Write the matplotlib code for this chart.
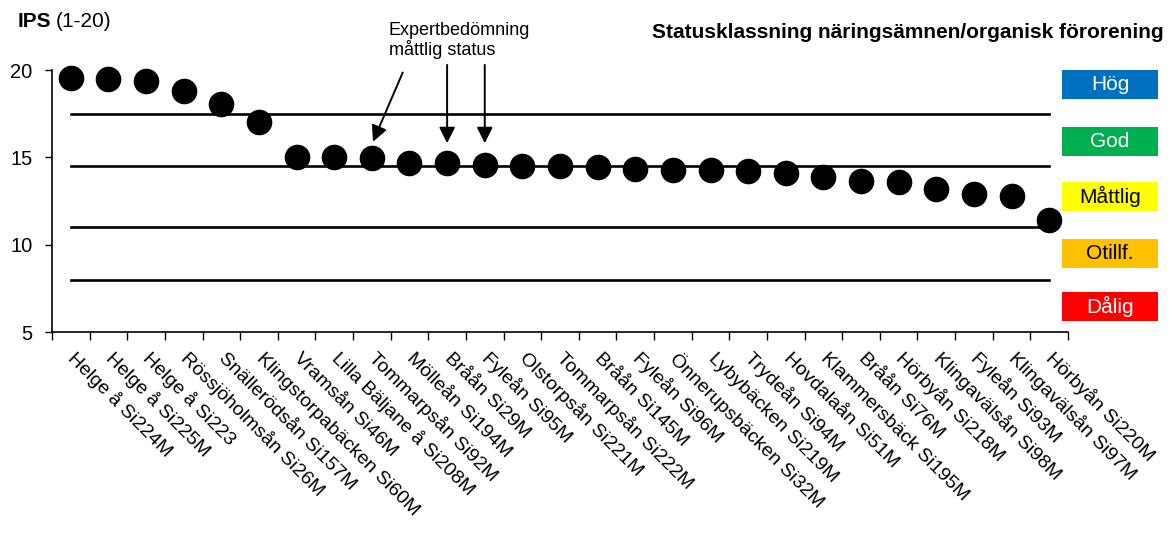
import matplotlib.pyplot as plt
import numpy as np
from matplotlib.patches import Rectangle

plt.rcParams['font.family'] = ['Liberation Sans', 'DejaVu Sans']

# stations and IPS values
stations = ['Helge å Si224M', 'Helge å Si225M', 'Helge å Si223', 'Rössjöholmsån Si26M',
            'Snällerödsån Si157M', 'Klingstorpabäcken Si60M', 'Vramsån Si46M',
            'Lilla Bäljane å Si208M', 'Tommarpsån Si92M', 'Mölleån Si194M', 'Bråån Si29M',
            'Fyleån Si95M', 'Olstorpsån Si221M', 'Tommarpsån Si222M', 'Bråån Si145M',
            'Fyleån Si96M', 'Önnerupsbäcken Si32M', 'Lybybäcken Si219M', 'Trydeån Si94M',
            'Hovdalaån Si51M', 'Klammersbäck Si195M', 'Bråån Si76M', 'Hörbyån Si218M',
            'Klingavälsån Si98M', 'Fyleån Si93M', 'Klingavälsån Si97M', 'Hörbyån Si220M']
ips = [19.55, 19.5, 19.35, 18.8, 18.05, 17.0, 15.0, 15.0, 14.95, 14.7, 14.7, 14.55,
       14.5, 14.5, 14.45, 14.35, 14.3, 14.25, 14.2, 14.1, 13.85, 13.65, 13.6,
       13.2, 12.9, 12.8, 11.4]

# class boundaries
limits = [17.5, 14.5, 11, 8]
classes = ['Hög', 'God', 'Måttlig', 'Otillf.', 'Dålig']
class_colors = ['#0070C0', '#00B050', '#FFFF00', '#FFC000', '#FF0000']
class_text = ['white', 'white', 'black', 'black', 'white']

# stations with expert assessment
expert = [8, 10, 11]

W, H = 1176, 533
fig = plt.figure(figsize=(W / 100, H / 100), dpi=100)
ax = fig.add_axes([52 / W, 1 - 332 / H, 1016 / W, 262 / H])

x = np.arange(len(stations))
for lim in limits:
    ax.plot([0, len(stations) - 1], [lim, lim], color='black', lw=1.9, zorder=1)
ax.scatter(x, ips, s=340, color='black', zorder=3, clip_on=False, linewidths=0)

ax.set_xlim(-0.5, len(stations) - 0.5)
ax.set_ylim(5, 20)
ax.set_yticks([5, 10, 15, 20])
ax.tick_params(axis='y', labelsize=14.5, length=5, width=1, direction='out', pad=9)
ax.set_xticks(np.arange(len(stations) + 1) - 0.5, minor=True)
ax.set_xticks(x)
ax.set_xticklabels(stations, rotation=-45, ha='left', va='center', rotation_mode='anchor', fontsize=14)
ax.tick_params(axis='x', which='major', length=0, pad=17)
ax.tick_params(axis='x', which='minor', length=6, width=1, direction='out')
for s in ['top', 'right']:
    ax.spines[s].set_visible(False)
ax.spines['left'].set_linewidth(1.2)
ax.spines['bottom'].set_linewidth(1.2)

# arrows for expert assessment
arrow_style = dict(arrowstyle='-|>', color='black', lw=1.4, mutation_scale=24)
ax.annotate('', xy=(expert[0], 15.75), xytext=(expert[0] + 0.85, 20.0),
            arrowprops=arrow_style, annotation_clip=False)
for i in expert[1:]:
    ax.annotate('', xy=(i, 15.65), xytext=(i, 20.45),
                arrowprops=arrow_style, annotation_clip=False)
fig.text(389 / W, 1 - 22 / H, 'Expertbedömning\nmåttlig status', fontsize=13,
         ha='left', va='top', linespacing=1.05)

# titles
fig.text(18 / W, 1 - 27 / H, 'IPS', fontsize=15, fontweight='bold', ha='left', va='baseline')
fig.text(56 / W, 1 - 27 / H, '(1-20)', fontsize=15, ha='left', va='baseline')
fig.text(1164 / W, 1 - 38 / H, 'Statusklassning näringsämnen/organisk förorening',
         fontsize=15, fontweight='bold', ha='right', va='baseline')

# class boxes
box_top = [70, 127, 182, 239, 292]
for name, col, tc, yt in zip(classes, class_colors, class_text, box_top):
    x0, w, h = 1062 / W, 96 / W, 29 / H
    y0 = 1 - yt / H - h
    fig.patches.append(Rectangle((x0, y0), w, h, transform=fig.transFigure,
                                 facecolor=col, edgecolor='none'))
    fig.text(x0 + w / 2, y0 + h / 2, name, color=tc, fontsize=15, ha='center', va='center')

fig.savefig('out.png', dpi=100)
